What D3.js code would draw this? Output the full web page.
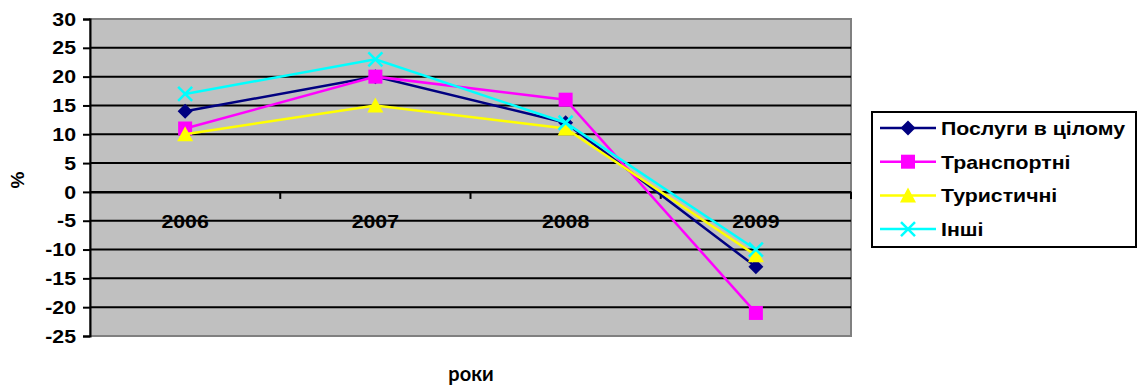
<!DOCTYPE html>
<html><head><meta charset="utf-8">
<script src="https://cdn.jsdelivr.net/npm/d3@7"></script>
<style>body{margin:0;background:#fff}svg{display:block}</style>
</head><body>
<svg id="c" width="1141" height="387"></svg>
<script>
const years = ["2006","2007","2008","2009"];
const seriesNames = ["Послуги в цілому","Транспортні","Туристичні","Інші"];
const servicesTotal = [14, 20, 12, -13];
const transport = [11, 20, 16, -21];
const tourism = [10, 15, 11, -11];
const other = [17, 23, 12, -10];
const yTicks = [30,25,20,15,10,5,0,-5,-10,-15,-20,-25];
const colors = ["#000080","#FF00FF","#FFFF00","#00FFFF"];
const symbols = ["diamond","square","triangle","x"];
const allSeries = [servicesTotal, transport, tourism, other];

const FONT = "Arial, 'Liberation Sans', sans-serif";
const STRETCH = 1.12;
function stretch(sel) {
  sel.each(function () {
    const w = this.getComputedTextLength();
    d3.select(this).attr("textLength", w * STRETCH).attr("lengthAdjust", "spacingAndGlyphs");
  });
}

const svg = d3.select("#c");
const L = 90, R = 851, T = 19, B = 336;
const x = d3.scaleBand().domain(years).range([L, R]);
const y = d3.scaleLinear().domain([-25, 30]).range([B, T]);

// plot background
svg.append("rect").attr("x", L).attr("y", T).attr("width", R - L).attr("height", B - T)
  .attr("fill", "#C0C0C0").attr("stroke", "#808080").attr("stroke-width", 2);

// gridlines
svg.append("g").selectAll("line").data(yTicks.filter(v => v !== 30 && v !== -25)).join("line")
  .attr("x1", L).attr("x2", R).attr("y1", d => y(d)).attr("y2", d => y(d))
  .attr("stroke", "#000").attr("stroke-width", 2);

// y axis
const yAxis = d3.axisLeft(y).tickValues(yTicks).tickSize(7).tickPadding(7).tickFormat(d3.format("d"));
const gy = svg.append("g").attr("transform", `translate(${L},0)`).call(yAxis);
gy.select(".domain").attr("stroke", "#000").attr("stroke-width", 2);
gy.selectAll(".tick line").attr("stroke", "#000").attr("stroke-width", 2);
gy.selectAll(".tick text").attr("font-family", FONT)
  .attr("font-weight", "bold").attr("font-size", 19).attr("fill", "#000")
  .text(d => d < 0 ? "-" + Math.abs(d) : d).call(stretch);

// x axis at zero
const xAxis = d3.axisBottom(x).tickSize(0).tickPadding(23);
const gx = svg.append("g").attr("transform", `translate(0,${y(0)})`).call(xAxis);
gx.select(".domain").attr("stroke", "#000").attr("stroke-width", 2);
gx.selectAll(".tick text").attr("font-family", FONT)
  .attr("font-weight", "bold").attr("font-size", 19).attr("fill", "#000").call(stretch);
// tick marks between categories
svg.append("g").selectAll("line").data(years).join("line")
  .attr("x1", d => x(d) + x.bandwidth()).attr("x2", d => x(d) + x.bandwidth())
  .attr("y1", y(0)).attr("y2", y(0) + 7).attr("stroke", "#000").attr("stroke-width", 2);

// lines
const line = d3.line().x((d, i) => x(years[i]) + x.bandwidth() / 2).y(d => y(d));
function drawMarker(g, sym, color, cx, cy, s) {
  if (sym === "diamond") {
    g.append("path").attr("d", `M${cx},${cy - s}L${cx + s},${cy}L${cx},${cy + s}L${cx - s},${cy}Z`).attr("fill", color);
  } else if (sym === "square") {
    g.append("rect").attr("x", cx - s).attr("y", cy - s).attr("width", 2 * s).attr("height", 2 * s).attr("fill", color);
  } else if (sym === "triangle") {
    g.append("path").attr("d", `M${cx},${cy - s - 1}L${cx + s + 1},${cy + s}L${cx - s - 1},${cy + s}Z`).attr("fill", color);
  } else {
    g.append("path").attr("d", `M${cx - s},${cy - s}L${cx + s},${cy + s}M${cx - s},${cy + s}L${cx + s},${cy - s}`)
      .attr("stroke", color).attr("stroke-width", 2.5).attr("fill", "none");
  }
}
const sizes = [7.5, 7, 7, 7];
allSeries.forEach((vals, k) => {
  const g = svg.append("g");
  g.append("path").datum(vals).attr("d", line).attr("fill", "none")
    .attr("stroke", colors[k]).attr("stroke-width", 2.5);
  vals.forEach((v, i) => drawMarker(g, symbols[k], colors[k], x(years[i]) + x.bandwidth() / 2, y(v), sizes[k]));
});

// axis titles
svg.append("text").attr("transform", "translate(24,180) rotate(-90)").attr("text-anchor", "middle")
  .attr("font-family", FONT).attr("font-weight", "bold").attr("font-size", 19)
  .text("%");
svg.append("text").attr("x", 471).attr("y", 381).attr("text-anchor", "middle")
  .attr("font-family", "Lato, 'Open Sans', sans-serif").attr("font-weight", "bold").attr("font-size", 20)
  .text("роки");

// legend
const lx = 872, ly = 112, lw = 264, lh = 135, rowH = 33.7, row0 = 128;
svg.append("rect").attr("x", lx).attr("y", ly).attr("width", lw).attr("height", lh)
  .attr("fill", "#fff").attr("stroke", "#000").attr("stroke-width", 2);
seriesNames.forEach((name, k) => {
  const cy = row0 + k * rowH;
  const g = svg.append("g");
  g.append("line").attr("x1", 880).attr("x2", 936).attr("y1", cy).attr("y2", cy)
    .attr("stroke", colors[k]).attr("stroke-width", 2.5);
  drawMarker(g, symbols[k], colors[k], 908, cy, sizes[k]);
  g.append("text").attr("x", 941).attr("y", cy).attr("dy", "0.36em")
    .attr("font-family", FONT).attr("font-weight", "bold").attr("font-size", 19)
    .text(name).call(stretch);
});
</script>
</body></html>
